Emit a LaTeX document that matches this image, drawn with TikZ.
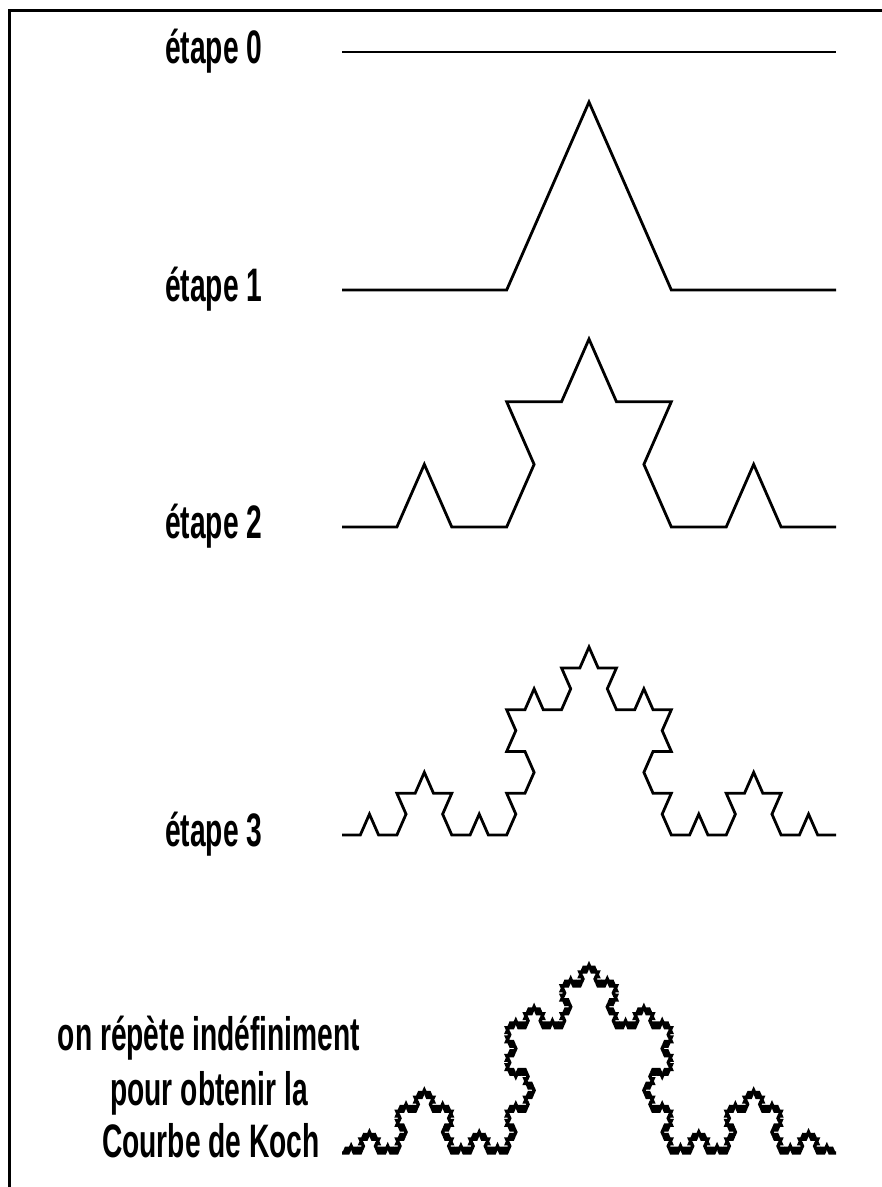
\documentclass[tikz,border=0pt]{standalone}
\usepackage{fontspec}
\setmainfont{Liberation Sans}[FakeStretch=0.6]
\newcommand\kochcurve[4]{% #1 name, #2 baseline y (px), #3 order, #4 line width
  \begin{scope}[shift={(342,-#2)}, yscale=1.318]
    \pgfmathtruncatemacro\kn{4^#3-1}
    \pgfmathsetmacro\ks{494/3^#3}
    \coordinate (#1) at (0,0);
    \draw[curve, line width=#4] (#1) \foreach \k in {0,...,\kn} { -- ++({kang(\k)}:\ks) };
  \end{scope}}
\begin{document}
\begin{tikzpicture}[x=1pt,y=1pt,
  declare function={kf(\d)=(\d==1)*60-(\d==2)*60;
    kang(\k)=kf(mod(\k,4))+kf(mod(div(\k,4),4))+kf(mod(div(\k,16),4))+kf(mod(div(\k,64),4))+kf(mod(div(\k,256),4));},
  curve/.style={line join=miter, line cap=butt},
  lab/.style={font=\fontsize{47}{52}\selectfont\bfseries, inner sep=0pt, anchor=base west},
  note/.style={font=\fontsize{47}{52}\selectfont\bfseries, inner sep=0pt, anchor=base}]
\useasboundingbox (0,-1187) rectangle (882,0);
\draw[line width=3pt] (9,-1200) -- (9,-10) -- (900,-10);
% curves
\kochcurve{k0}{52}{0}{2.8pt}
\kochcurve{k1}{290}{1}{2.8pt}
\kochcurve{k2}{527}{2}{2.8pt}
\kochcurve{k3}{835}{3}{2.8pt}
\kochcurve{k5}{1153}{5}{3.4pt}
% labels
\node[lab] (l0) at (165,-63) {étape 0};
\node[lab] (l1) at (165,-301) {étape 1};
\node[lab] (l2) at (165,-538) {étape 2};
\node[lab] (l3) at (165,-846) {étape 3};
\node[note] (n1) at (209,-1050) {on répète indéfiniment};
\node[note] (n2) at (209,-1105) {pour obtenir la};
\node[note] (n3) at (211,-1157) {Courbe de Koch};
\end{tikzpicture}
\end{document}
